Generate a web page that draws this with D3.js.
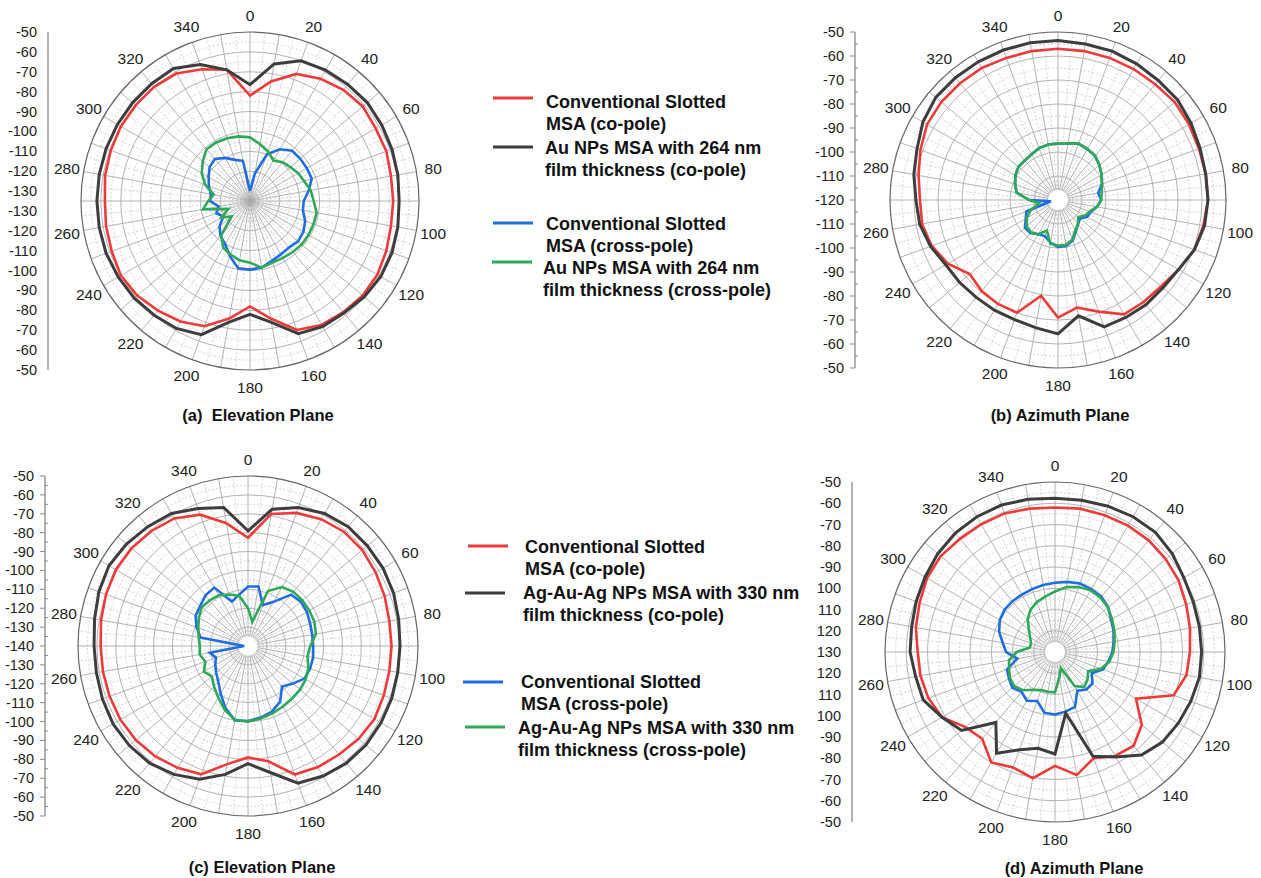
<!DOCTYPE html>
<html>
<head>
<meta charset="utf-8">
<script src="https://cdn.jsdelivr.net/npm/d3@7"></script>
<style>
  body { margin: 0; background: #fff; }
  svg { display: block; font-family: Arial, "Liberation Sans", sans-serif; }
  text { white-space: pre; }
</style>
</head>
<body>
<div id="chart"></div>
<script>
const width = 1261;
const height = 878;

// angles of the measured points (degrees, clockwise from top)
const angles = d3.range(0, 360, 10);
const angleLabels = d3.range(0, 360, 20);

// (a) Elevation plane, Au NPs 264 nm
const aRed = [-82,-74,-67,-64,-62,-61,-62,-62,-63,-63,-63,-62,-61,-61,-62,-63,-66,-75,-82,-75,-68,-65,-63,-61,-60,-61,-61.5,-62,-61,-60.5,-60,-60,-60,-61,-64.5,-68];
const aBlack = [-76.5,-65,-60,-59,-58.5,-58,-58.5,-59,-59.5,-60,-59.5,-59,-59,-60,-61.5,-62,-64,-73,-78,-73,-63.5,-61,-60,-59,-58.5,-58,-58,-58,-58,-58,-58,-58,-58,-58,-62,-68];
const aBlue = [-130,-121,-110,-105,-102,-102,-102,-102,-105,-108,-108,-105.5,-104,-103.5,-104.5,-104,-103,-101,-100.5,-100.7,-105.5,-110,-112,-115,-119.5,-117,-119,-115,-115,-113,-111,-108.5,-107.5,-110,-113,-114.5];
const aGreen = [-103,-106,-108.5,-111.5,-109.5,-108.5,-107,-106,-104,-103,-101,-101,-101,-101,-101.5,-102,-102,-101,-104,-104.7,-106.4,-108,-112.5,-123,-118.5,-123.5,-111,-114,-116.5,-111,-107,-104,-101,-101,-101.4,-102];
const aAxis = ["-50","-60","-70","-80","-90","-100","-110","-120","-130","-130","-120","-110","-100","-90","-80","-70","-60","-50"];

// (b) Azimuth plane, Au NPs 264 nm
const bRed = [-57,-57,-57,-57,-57,-56.5,-57,-57.5,-57.5,-57.5,-58.5,-59.5,-62,-64,-64.5,-65,-70.5,-74.5,-71,-79.5,-70,-70,-70.5,-72,-67,-64,-62.5,-62.5,-61,-59,-57,-56.5,-56.5,-56.5,-57,-57];
const bBlack = [-53.5,-54,-54,-54.5,-55,-55,-56,-57,-57.5,-57.5,-58,-59.5,-62,-63,-63,-63.5,-63.7,-71,-64.2,-66,-67,-67,-67,-66.5,-66,-63.5,-61.5,-60.8,-59,-57.5,-55,-53.5,-53.5,-53.5,-53.5,-53.5];
const bBlue = [-96.5,-96,-95,-95.5,-96,-97.5,-99,-100.5,-103,-102,-103.5,-105.5,-106,-108,-107,-105,-102,-100.5,-100.5,-102,-104,-103.5,-102,-102,-104.5,-106,-117,-108,-102.5,-101,-99.5,-98.5,-98.5,-98,-97,-96.5];
const bGreen = [-96.5,-96,-95,-95.5,-96,-97.5,-99,-100.5,-101.5,-102,-103.5,-106,-107,-109,-107,-105.5,-102.5,-101,-101,-101.5,-106.5,-103.5,-102.5,-103,-105,-108,-112,-108,-102.5,-101,-99.5,-98.5,-98.5,-98,-97,-96.5];
const bAxis = ["-50","-60","-70","-80","-90","-100","-110","-120","-110","-100","-90","-80","-70","-60","-50"];

// (c) Elevation plane, Ag-Au-Ag NPs 330 nm
const cRed = [-82.7,-69,-65,-62.5,-61,-61,-62,-63,-64,-64,-64,-63.5,-62.7,-63.5,-65,-66,-67.6,-78,-81,-76.5,-67.7,-65.5,-63.7,-62.5,-62,-62,-62,-62,-61,-60,-59.2,-59.5,-60.5,-62,-66,-74];
const cBlack = [-79,-66.5,-62,-59,-57.5,-57.5,-57.5,-58,-59,-59.5,-59.5,-59,-58.7,-58.5,-59,-60.5,-62.7,-72,-77.7,-71,-65,-61.5,-59,-58,-57.5,-58,-58.5,-58.5,-57.5,-56,-55,-56,-57.5,-59,-62.5,-65.5];
const cBlue = [-108.5,-108,-117,-113,-104.5,-103.5,-104,-105,-105.5,-105.5,-105,-105,-105.5,-109,-112,-106,-103,-101.5,-100.3,-100,-105,-111,-115.5,-118,-120,-122,-119.5,-138,-114.5,-111,-108,-107,-105,-104.3,-115,-112.5];
const cGreen = [-120,-127,-109,-104,-102.6,-102.4,-102.5,-102.6,-103.5,-107,-108,-106,-104.7,-104,-103.7,-103,-102,-101,-100,-100.3,-104,-108.5,-112,-115,-113,-116,-114,-114.5,-113.5,-112,-110,-108,-108.5,-109,-111,-113];
const cAxis = ["-50","-60","-70","-80","-90","-100","-110","-120","-130","-140","-130","-120","-110","-100","-90","-80","-70","-60","-50"];

// (d) Azimuth plane, Ag-Au-Ag NPs 330 nm
const dRed = [-62,-61.5,-61.5,-61.3,-61.4,-62,-62.8,-64.3,-65.5,-66.5,-67.2,-70.6,-86,-76.7,-72.4,-73.5,-76.8,-71.2,-76.4,-69.7,-72.2,-70,-76.7,-75,-68.6,-66.6,-65.7,-65.4,-63.5,-62.2,-60.5,-59.8,-60.5,-60.6,-60.6,-61.5];
const dBlack = [-57.7,-57.5,-57,-56.5,-56.5,-58,-60,-60.8,-61,-61,-61,-62,-63,-64,-66.7,-73,-77.8,-100.8,-82,-84,-81,-75,-86.7,-72.6,-68.6,-64,-63.4,-61.8,-61.5,-60.5,-59.4,-58,-57,-56.5,-56.4,-57];
const dBlue = [-97.4,-96.5,-95.7,-95.8,-96,-97.3,-99.5,-100.7,-102,-103,-104.5,-106,-110,-107,-107,-109,-102.5,-101.5,-100.6,-101,-105.5,-103.5,-105.5,-103.8,-105,-106,-112,-107,-105,-102,-100,-99,-98.8,-98.8,-98.5,-98];
const dGreen = [-101.5,-99,-97.5,-96.5,-96.6,-97.5,-99,-100.3,-101.5,-102.5,-104,-107,-112,-110,-108.5,-111.5,-122,-118,-111,-111,-111,-109.5,-106.5,-105,-105.5,-107,-108,-112,-118,-118,-116.5,-114,-110,-107,-105,-103.5];
const dAxis = ["-50","-60","-70","-80","-90","100","110","120","130","120","110","100","-90","-80","-70","-60","-50"];

const legendTop = ["Conventional Slotted|MSA (co-pole)", "Au NPs MSA with 264 nm|film thickness (co-pole)",
                   "Conventional Slotted|MSA (cross-pole)", "Au NPs MSA with 264 nm|film thickness (cross-pole)"];
const legendBottom = ["Conventional Slotted|MSA (co-pole)", "Ag-Au-Ag NPs MSA with 330 nm|film thickness (co-pole)",
                      "Conventional Slotted|MSA (cross-pole)", "Ag-Au-Ag NPs MSA with 330 nm|film thickness (cross-pole)"];

const colors = ["#ee3a3a", "#3d3d3d", "#1f6de0", "#30a85a"];
const widths = [2.6, 3, 2.6, 2.6];

const svg = d3.select("#chart").append("svg")
    .attr("width", width)
    .attr("height", height);

const panels = [
  { cx: 250, cy: 201, R: 169, vMin: -130, hole: 10, axisX: 48, axis: aAxis, ticks: false, center: true,
    title: "(a)  Elevation Plane", titleX: 258, titleY: 415, series: [aRed, aBlack, aBlue, aGreen] },
  { cx: 1058, cy: 200, R: 168, vMin: -120, hole: 0, axisX: 855, axis: bAxis, ticks: true, center: false,
    title: "(b) Azimuth Plane", titleX: 1060, titleY: 415, series: [bRed, bBlack, bBlue, bGreen] },
  { cx: 248, cy: 646, R: 170, vMin: -140, hole: 0, axisX: 45, axis: cAxis, ticks: true, center: false,
    title: "(c) Elevation Plane", titleX: 262, titleY: 867, series: [cRed, cBlack, cBlue, cGreen] },
  { cx: 1055, cy: 652, R: 170, vMin: -130, hole: 0, axisX: 852, axis: dAxis, ticks: false, center: false,
    title: "(d) Azimuth Plane", titleX: 1074, titleY: 868, series: [dRed, dBlack, dBlue, dGreen] }
];

const rad = d => d * Math.PI / 180;

panels.forEach(p => {
  const g = svg.append("g").attr("transform", `translate(${p.cx},${p.cy})`);
  const r = d3.scaleLinear().domain([p.vMin, -50]).range([p.hole, p.R]);
  const inner = p.center ? 0 : 10;

  // dotted minor rings
  g.selectAll(".minor-ring")
    .data(d3.range(p.vMin + 5, -50, 10))
    .join("circle")
    .attr("r", d => r(d))
    .attr("fill", "none")
    .attr("stroke", "#c8c8c8")
    .attr("stroke-width", 0.8)
    .attr("stroke-dasharray", "2,2");

  // solid major rings
  g.selectAll(".major-ring")
    .data(d3.range(p.vMin + 10, -50, 10))
    .join("circle")
    .attr("r", d => r(d))
    .attr("fill", "none")
    .attr("stroke", "#aaa")
    .attr("stroke-width", 0.9);

  // dotted spokes every 5 deg, solid every 10 deg
  g.selectAll(".minor-spoke")
    .data(d3.range(5, 360, 10))
    .join("line")
    .attr("x1", d => inner * Math.sin(rad(d)))
    .attr("y1", d => -inner * Math.cos(rad(d)))
    .attr("x2", d => p.R * Math.sin(rad(d)))
    .attr("y2", d => -p.R * Math.cos(rad(d)))
    .attr("stroke", "#c8c8c8")
    .attr("stroke-width", 0.8)
    .attr("stroke-dasharray", "2,2");

  g.selectAll(".major-spoke")
    .data(angles)
    .join("line")
    .attr("x1", d => inner * Math.sin(rad(d)))
    .attr("y1", d => -inner * Math.cos(rad(d)))
    .attr("x2", d => p.R * Math.sin(rad(d)))
    .attr("y2", d => -p.R * Math.cos(rad(d)))
    .attr("stroke", "#aaa")
    .attr("stroke-width", 0.9);

  // outer ring
  g.append("circle")
    .attr("r", p.R)
    .attr("fill", "none")
    .attr("stroke", "#666")
    .attr("stroke-width", 1.2);

  // angle labels
  g.selectAll(".angle-label")
    .data(angleLabels)
    .join("text")
    .attr("x", d => (p.R + 17) * Math.sin(rad(d)))
    .attr("y", d => -(p.R + 17) * Math.cos(rad(d)))
    .attr("text-anchor", "middle")
    .attr("dominant-baseline", "central")
    .attr("font-size", 15.5)
    .attr("fill", "#222")
    .text(d => d);

  // patterns
  const line = d3.lineRadial()
    .angle(d => rad(d.a))
    .radius(d => r(d.v))
    .curve(d3.curveLinearClosed);

  [2, 3, 0, 1].forEach(i => {
    const pts = angles.map((a, k) => ({ a: a, v: p.series[i][k] }));
    g.append("path")
      .attr("d", line(pts))
      .attr("fill", "none")
      .attr("stroke", colors[i])
      .attr("stroke-width", widths[i])
      .attr("stroke-linejoin", "miter");
  });

  // radial scale shown on the left
  const y = d3.scalePoint()
    .domain(d3.range(p.axis.length))
    .range([p.cy - p.R, p.cy + p.R]);

  const ax = svg.append("g");
  ax.append("line")
    .attr("x1", p.axisX).attr("x2", p.axisX)
    .attr("y1", p.cy - p.R).attr("y2", p.cy + p.R)
    .attr("stroke", "#888")
    .attr("stroke-width", 1.3);

  if (p.ticks) {
    const step = y.step();
    ax.selectAll(".tick-major")
      .data(d3.range(p.axis.length))
      .join("line")
      .attr("x1", p.axisX - 5).attr("x2", p.axisX)
      .attr("y1", d => y(d)).attr("y2", d => y(d))
      .attr("stroke", "#888");
    ax.selectAll(".tick-minor")
      .data(d3.range(p.axis.length - 1))
      .join("line")
      .attr("x1", p.axisX).attr("x2", p.axisX + 3)
      .attr("y1", d => y(d) + step / 2).attr("y2", d => y(d) + step / 2)
      .attr("stroke", "#888");
  }

  ax.selectAll(".axis-label")
    .data(p.axis)
    .join("text")
    .attr("x", p.axisX - 11)
    .attr("y", (d, i) => y(i))
    .attr("text-anchor", "end")
    .attr("dominant-baseline", "central")
    .attr("font-size", 14.5)
    .attr("fill", "#222")
    .text(d => d);

  // panel caption
  svg.append("text")
    .attr("x", p.titleX)
    .attr("y", p.titleY)
    .attr("text-anchor", "middle")
    .attr("dominant-baseline", "central")
    .attr("font-size", 16.5)
    .attr("font-weight", "bold")
    .attr("fill", "#111")
    .text(p.title);
});

// legends: line x, line y, text x, text y of the first line
function drawLegend(items, lx, ly, tx, ty) {
  const lg = svg.append("g");
  items.forEach((txt, i) => {
    const lines = txt.split("|");
    lg.append("line")
      .attr("x1", lx[i]).attr("x2", lx[i] + 40)
      .attr("y1", ly[i]).attr("y2", ly[i])
      .attr("stroke", colors[i])
      .attr("stroke-width", 3);
    lines.forEach((t, j) => {
      lg.append("text")
        .attr("x", tx[i])
        .attr("y", ty[i] + j * 22)
        .attr("dominant-baseline", "central")
        .attr("font-size", 18)
        .attr("font-weight", "bold")
        .attr("fill", "#111")
        .text(t);
    });
  });
}

drawLegend(legendTop, [493, 493, 493, 492], [98, 147, 223, 262], [546, 545, 546, 543], [102, 148, 224, 268]);
drawLegend(legendBottom, [468, 465, 463, 465], [546, 593, 682, 727], [525, 523, 521, 518], [547, 593, 682, 728]);
</script>
</body>
</html>
